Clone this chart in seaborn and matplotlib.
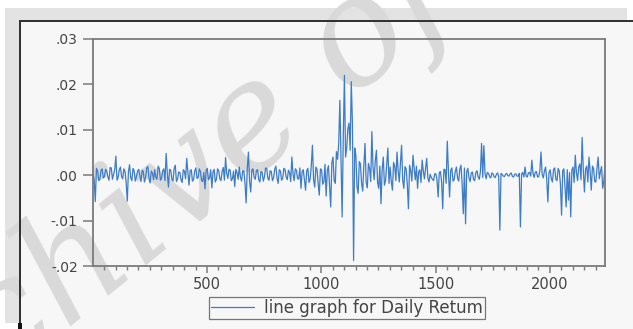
import numpy as np
import pandas as pd
import matplotlib
matplotlib.use("Agg")
import matplotlib.pyplot as plt
from matplotlib.patches import Rectangle
from matplotlib.ticker import MultipleLocator, FixedLocator
import seaborn as sns

obs = np.arange(1, 2242, 5)

# daily return in units of 0.001 (20 values per 100 days)
ret_permil = [
    0.3, -0.8, -5.8, 1.5, 1.0, -1.2, -0.9, 1.1, 1.4, -0.6, -0.3, 1.3, 0.9, -0.4, -1.1, 1.7, 1.6, -0.9, 0.2, 1.2,
    4.2, -1.1, -0.5, 1.2, 1.8, -0.3, -0.8, 1.4, 0.9, -1.6, -5.7, 0.8, 2.3, -0.6, -1.2, 1.5, 1.0, -1.3, -0.4, 0.9,
    1.3, -0.2, -1.4, 1.1, 0.8, -1.5, -0.6, 1.6, 1.9, -0.7, -1.7, 0.9, 0.5, -1.0, 1.2, -0.5, -0.9, 2.0, 1.5, -1.1,
    -0.7, 1.0, 1.4, -1.2, 4.8, 0.5, -2.6, 1.3, 1.1, -0.9, -1.3, 1.5, 2.2, -1.4, -0.8, 0.7, 0.6, -1.0, -1.6, 1.2,
    0.9, -0.8, 3.7, 0.6, -2.2, 1.0, 1.2, -1.3, -1.0, 0.9, 1.6, -0.7, -0.5, 1.4, 0.8, -1.2, -1.4, 0.6, -3.0, 1.1,
    1.5, -1.0, -0.6, 1.2, -2.8, 0.7, 1.3, -1.5, -0.9, 1.4, 1.0, -0.8, -1.2, 0.9, 1.7, -1.1, 3.9, 0.4, -0.7, 1.3,
    1.1, -1.2, -0.8, 0.9, -2.5, 1.3, 0.6, -0.9, 1.8, -0.4, -1.3, 1.0, 0.9, -1.8, -6.1, 1.6, 5.1, -1.4, -3.7, 1.2,
    1.4, -0.5, -0.9, 1.1, 1.2, -1.0, -1.5, 0.8, 0.7, -1.3, -0.4, 1.6, 1.5, -0.7, -1.1, 1.0, 0.8, -1.2, -0.6, 1.3,
    2.0, -0.6, -1.8, 1.2, 0.9, -1.1, -0.7, 1.5, 1.3, -0.4, -1.0, 1.1, 0.6, -1.4, 4.0, 0.3, -1.2, 1.4, 1.1, -0.8,
    -0.8, 1.6, -2.9, 0.8, 1.2, -1.1, -3.3, 1.0, 1.5, -1.6, -0.9, 2.1, 6.6, -1.0, -2.6, 1.8, 1.3, -1.9, -4.4, 1.4,
    1.2, -2.0, -1.5, 2.4, -4.6, 1.0, 2.1, -2.5, -7.0, 2.8, 4.0, -1.2, -1.8, 5.2, 3.5, 7.0, 16.5, 3.0, -9.2, 8.5,
    22.0, 4.0, 6.0, 10.2, 11.5, 5.5, 20.6, 11.4, -18.8, 6.0, 4.4, -2.5, -4.0, 3.0, 2.5, -1.8, -3.5, 2.2, 7.0, -1.5,
    -2.8, 2.6, 1.5, -1.4, 9.6, 1.8, -1.0, 3.2, 5.5, -1.6, -2.9, 2.0, -6.3, 1.2, 4.0, -2.2, -1.2, 2.5, 6.0, -1.8,
    1.8, -1.4, -3.3, 2.8, 2.0, -1.2, 5.1, 1.0, -1.5, 2.4, 6.6, -1.1, -2.9, 1.9, 1.4, -2.0, -7.4, 2.2, 1.0, -1.3,
    4.4, 1.5, -1.0, 2.0, -2.9, 0.8, 1.2, -1.6, 3.3, 0.9, -0.8, 1.5, 3.7, -0.6, -1.5, 0.2, -0.5, -0.9, -1.2, 0.3,
    0.3, -1.0, -4.8, 0.6, 0.8, -1.4, -7.4, 1.3, 1.2, -1.8, 7.5, 0.9, -4.8, 1.1, 1.6, -1.3, -1.0, 0.8, 1.8, -0.7,
    -1.3, 1.4, 2.2, -2.0, -8.5, 1.6, -10.7, 0.8, 1.5, -0.6, -1.4, 0.5, 0.7, -1.0, -1.2, 0.6, 1.0, -0.4, -0.9, 0.8,
    7.0, -0.5, 6.5, 0.4, -0.8, 0.6, 0.4, -0.3, -0.6, 0.5, 0.3, -0.4, -0.5, 0.2, 0.5, -0.3, -12.1, 0.4, 0.2, -0.2,
    -0.3, 0.2, 0.4, -0.1, -0.2, 0.3, 0.5, -0.3, -0.4, 0.2, 0.3, -0.2, -0.2, 0.4, -11.4, 0.3, 0.6, -0.4, 1.8, -0.2,
    -0.4, 0.5, 0.6, -0.2, 3.3, 0.4, -0.5, 0.7, 0.8, -0.4, -0.3, 1.0, 5.1, 0.2, -0.6, 0.9, 1.8, -0.8, -5.9, 0.6,
    1.2, -0.8, -1.5, 1.3, 1.6, -0.9, -1.2, 1.5, 0.9, -2.0, -8.8, 1.0, 1.4, -2.6, -7.0, 1.2, -5.5, 0.6, -9.2, 1.1,
    1.8, -1.6, 4.4, 0.6, -1.2, 1.8, 2.5, -1.0, 8.3, 1.2, -3.7, 1.4, 2.0, -1.5, 4.0, 0.8, -3.3, 2.0, 1.5, -1.4,
    -1.5, 1.6, 4.0, -0.8, 0.8, 1.9, -2.9, -1.2, 2.2,
]

ytick_vals = [-0.02, -0.01, 0.0, 0.01, 0.02, 0.03]
ytick_labels = ["-.02", "-.01", ".00", ".01", ".02", ".03"]
xtick_vals = [500, 1000, 1500, 2000]
series_name = "line graph for Daily Retum"
watermark = "Archive of SID"

df = pd.DataFrame({"obs": obs, "ret": np.array(ret_permil) / 1000.0})

sns.set_style("white")
plt.rcParams["font.family"] = ["DejaVu Sans"]

W, H = 633, 329
fig = plt.figure(figsize=(W / 100, H / 100), dpi=100)
fig.patch.set_facecolor("white")


def px_rect(x0, y0, x1, y1, color, z=-5):
    # rectangle given in pixel coords measured from the top-left corner
    fig.patches.append(Rectangle((x0 / W, 1 - y1 / H), (x1 - x0) / W, (y1 - y0) / H,
                                 transform=fig.transFigure, facecolor=color,
                                 edgecolor="none", zorder=z))


# frame around the graph window
px_rect(5, 8, 627, 20, "#e3e3e3")
px_rect(5, 8, 19, 323, "#e3e3e3")
px_rect(21, 22, 633, 329, "#f7f7f7")
px_rect(19, 20, 633, 22, "#333333", z=-3)
px_rect(19, 20, 21, 323, "#333333", z=-3)
px_rect(18, 323, 22, 329, "#111111", z=-3)

fig.text(266 / W, 1 - 124 / H, watermark, fontsize=108, family="DejaVu Serif", style="italic",
         rotation=39, color="#d9d9d9", ha="center", va="center", zorder=-4)

ax = fig.add_axes([93 / W, 1 - 266 / H, (605 - 93) / W, (266 - 39) / H])
ax.set_facecolor("none")

sns.lineplot(data=df, x="obs", y="ret", ax=ax, color="#3d7cc6", linewidth=0.9,
             label=series_name)

ax.set_xlim(1, 2241)
ax.set_ylim(-0.02, 0.03)
ax.set_xlabel("")
ax.set_ylabel("")

ax.yaxis.set_major_locator(FixedLocator(ytick_vals))
ax.set_yticklabels(ytick_labels)
ax.xaxis.set_major_locator(FixedLocator(xtick_vals))
ax.xaxis.set_minor_locator(MultipleLocator(50))

for s in ax.spines.values():
    s.set_color("#7a7a7a")
    s.set_linewidth(1.3)

ax.tick_params(axis="y", which="major", direction="out", length=7, width=1.1,
               color="#7a7a7a", labelsize=10, labelcolor="#444444", left=True, pad=4)
ax.tick_params(axis="x", which="major", direction="out", length=5, width=1.1,
               color="#7a7a7a", labelsize=10.5, labelcolor="#444444", bottom=True, pad=3)
ax.tick_params(axis="x", which="minor", direction="out", length=3, width=1.0,
               color="#7a7a7a", bottom=True)

leg = ax.legend(loc="center", bbox_to_anchor=(0.496, -0.185), frameon=True,
                fancybox=False, fontsize=12, handlelength=2.6, borderpad=0.12,
                handletextpad=0.6, borderaxespad=0)
leg.get_frame().set_edgecolor("#555555")
leg.get_frame().set_linewidth(0.9)
leg.get_frame().set_facecolor("#f7f7f7")
for t in leg.get_texts():
    t.set_color("#444444")

fig.savefig("out.png", dpi=100)
